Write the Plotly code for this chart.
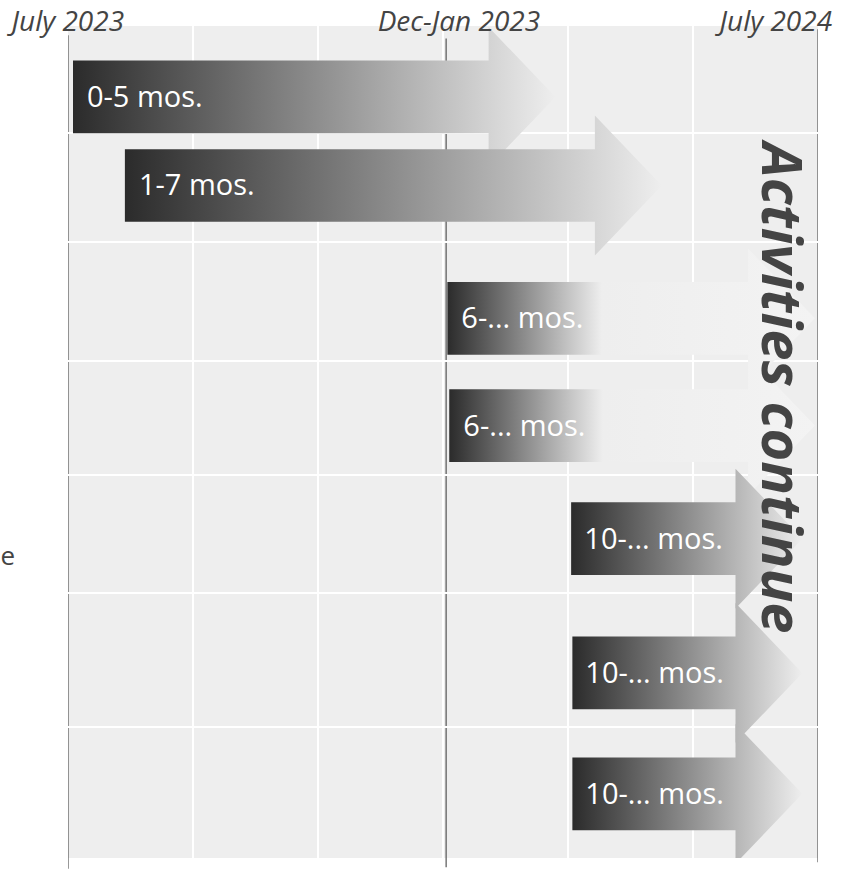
import plotly.graph_objects as go

# ---------------- data ----------------
tick_months = [0, 6.05, 12]
tick_text = ["July 2023", "Dec-Jan 2023", "July 2024"]
grid_months = [0, 2, 4, 6, 8, 10, 12]

bar_labels = ["0-5 mos.", "1-7 mos.", "6-... mos.", "6-... mos.",
              "10-... mos.", "10-... mos.", "10-... mos."]
bar_start = [0.08, 0.91, 6.07, 6.10, 8.05, 8.07, 8.07]      # months after July 2023
bar_tip = [7.80, 9.50, 11.95, 11.95, 11.75, 11.75, 11.75]    # arrow tip (months)
lane_y = [8.53, 19.17, 35.14, 48.03, 61.62, 77.76, 92.29]    # lane centres (0 = top, 100 = bottom)
open_ended = [False, False, True, True, False, False, False]
row_bounds = [12.8, 25.96, 40.26, 53.97, 68.15, 84.25]

# ---------------- styles ----------------
BAR_HALF = 4.37      # half bar thickness (y units)
HEAD_HALF = 8.4      # half arrow-head height (y units)
HEAD_LEN = 1.07      # arrow-head length (months)
FONT = "Source Sans Pro, Source Sans 3, Lato, sans-serif"
SCALE_NORMAL = [[0, "#2b2b2b"], [1, "#eeeeee"]]
SCALE_OPEN = [[0, "#2b2b2b"], [0.42, "#eeeeee"], [1, "#f3f3f3"]]

fig = go.Figure()

for lab, x0, xt, c, op in zip(bar_labels, bar_start, bar_tip, lane_y, open_ended):
    xb = xt - HEAD_LEN
    xs = [x0, xb, xb, xt, xb, xb, x0, x0]
    ys = [c - BAR_HALF, c - BAR_HALF, c - HEAD_HALF, c, c + HEAD_HALF,
          c + BAR_HALF, c + BAR_HALF, c - BAR_HALF]
    fig.add_trace(go.Scatter(
        x=xs, y=ys, mode="lines", fill="toself",
        line=dict(width=0, color="rgba(0,0,0,0)"),
        fillgradient=dict(type="horizontal",
                          colorscale=SCALE_OPEN if op else SCALE_NORMAL),
        hoverinfo="skip", showlegend=False,
    ))
    fig.add_annotation(x=x0, y=c, text=lab, showarrow=False,
                       xanchor="left", yanchor="middle", xshift=19,
                       font=dict(family=FONT, size=29, color="white"))

# top time labels
shifts = [0, 12, 15]
anchors = ["center", "center", "right"]
for xv, tt, sh, an in zip(tick_months, tick_text, shifts, anchors):
    fig.add_annotation(x=xv, y=1.006, yref="paper", text=tt, showarrow=False,
                       xanchor=an, yanchor="middle", xshift=sh,
                       font=dict(family=FONT, size=28, color="#444444",
                                 style="italic"))

# vertical reference lines
line_tops = [0.989, 0.985, 0.996]
line_bots = [-0.013, -0.011, -0.005]
for xv, t, b in zip(tick_months, line_tops, line_bots):
    fig.add_shape(type="line", x0=xv, x1=xv, y0=b, y1=t, yref="paper",
                  line=dict(color="#555555", width=1.2), layer="between")

# vertical caption
fig.add_annotation(x=11.41, y=43.3, text="Activities continue", showarrow=False,
                   textangle=90, xanchor="center", yanchor="middle",
                   font=dict(family=FONT, size=56, color="#444444",
                             weight="bold", style="italic"))

# axis title fragment at the far left
fig.add_annotation(x=-0.0905, xref="paper", y=63.8, text="e", showarrow=False,
                   xanchor="left", yanchor="middle",
                   font=dict(family=FONT, size=26, color="#444444"))

fig.update_layout(
    width=851, height=869,
    margin=dict(l=68, r=33, t=26, b=11),
    paper_bgcolor="white", plot_bgcolor="#eeeeee",
    xaxis=dict(range=[0, 12], tickvals=grid_months, showticklabels=False,
               showgrid=True, gridcolor="white", gridwidth=2.3,
               zeroline=False, showline=False, ticks="", fixedrange=True),
    yaxis=dict(range=[100, 0], tickvals=row_bounds, showticklabels=False,
               showgrid=True, gridcolor="white", gridwidth=2.3,
               zeroline=False, showline=False, ticks="", fixedrange=True),
)

fig.write_html("out.html")
